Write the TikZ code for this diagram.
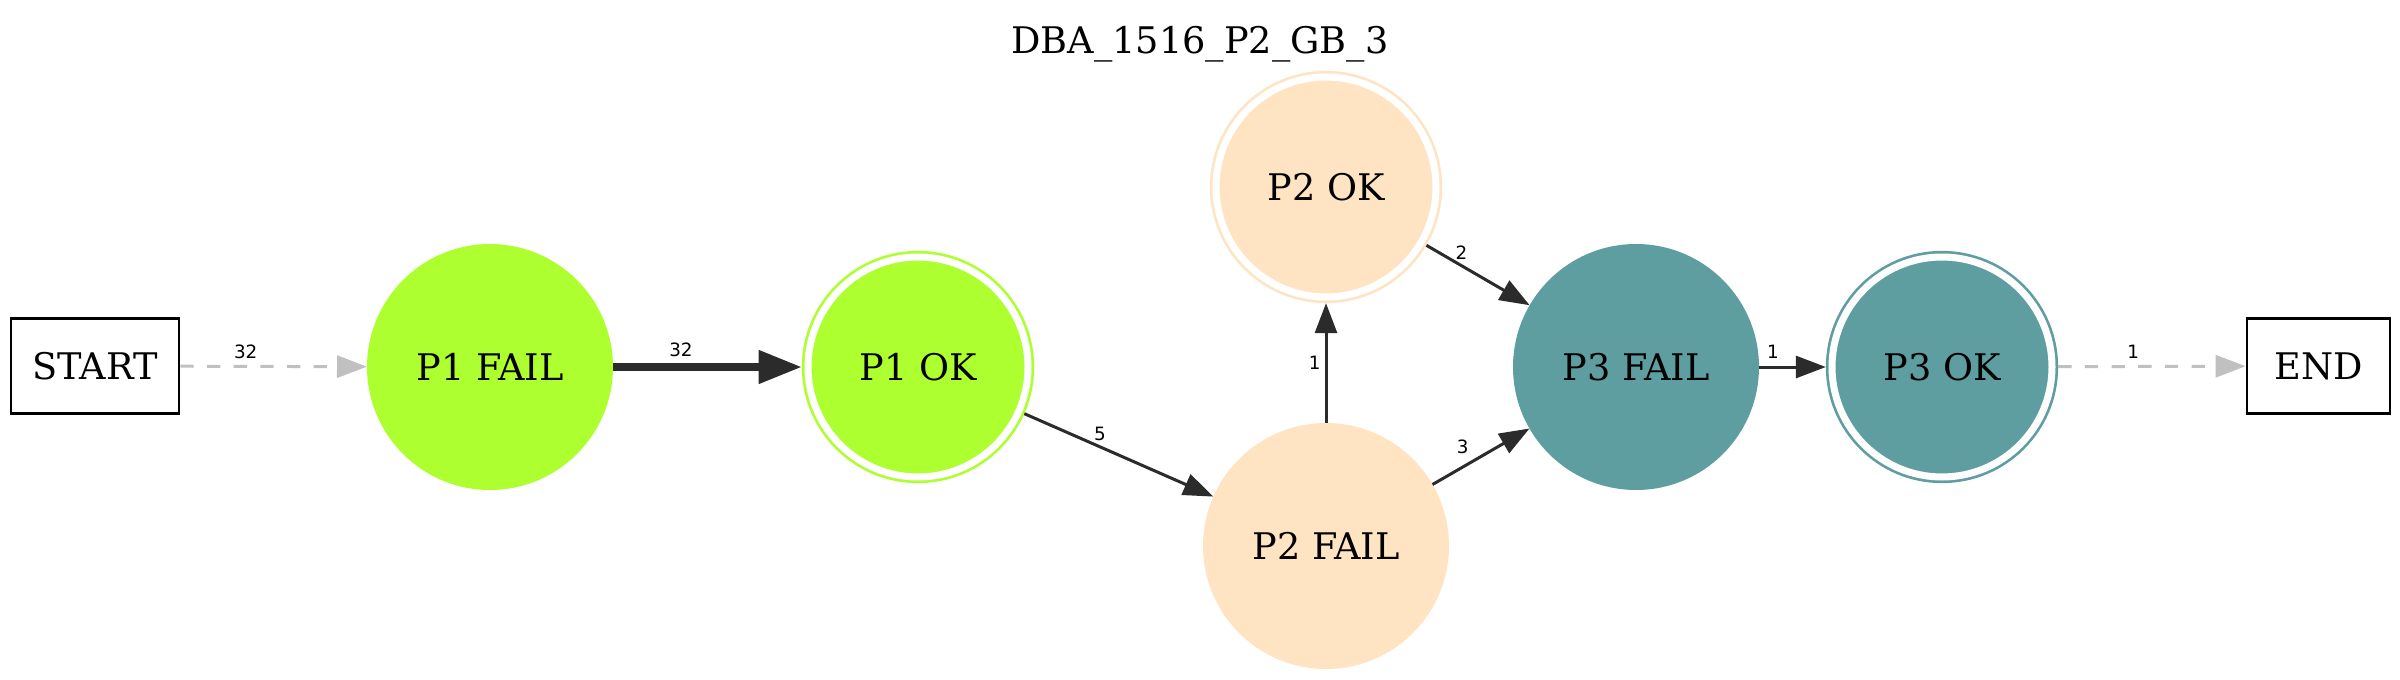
\documentclass[tikz,border=0pt]{standalone}
\usepackage{fontspec}
\setmainfont{DejaVu Serif}
\newfontfamily\edgefont{DejaVu Sans}
\usepackage{tikz}
\usetikzlibrary{arrows.meta, positioning}
\usepackage{xcolor}
\definecolor{p1col}{HTML}{ADFF2F}
\definecolor{p2col}{HTML}{FFE4C4}
\definecolor{p3col}{HTML}{5F9EA0}
\definecolor{edgecol}{HTML}{2B2B2B}
\definecolor{ghostcol}{HTML}{C0C0C0}

\begin{document}
\begin{tikzpicture}[
    x=0.3pt, y=-0.3pt,
    every node/.style={font=\fontsize{11}{13}\selectfont},
    state/.style={circle, fill=#1, draw=none, minimum size=73.8pt, inner sep=0pt, outer sep=0pt},
    final/.style={circle, fill=#1, draw=#1, double=white, double distance=2.1pt,
        line width=0.8pt, minimum size=66pt, inner sep=0pt, outer sep=1.85pt},
    term/.style={draw, line width=0.8pt, minimum height=28.5pt, inner sep=0pt},
    trans/.style={draw=edgecol, line width=0.9pt, -{Triangle[length=9pt, width=6.6pt]}},
    heavy/.style={draw=edgecol, line width=2.4pt, -{Triangle[length=13pt, width=9.6pt]}},
    ghost/.style={draw=ghostcol, line width=0.9pt, dash pattern=on 4pt off 4pt,
        -{Triangle[length=9pt, width=6.6pt]}},
    elabel/.style={font=\edgefont\fontsize{5.5}{6}\selectfont, inner sep=0pt}
]
\useasboundingbox (0,0) rectangle (2400,680);

% Title
\node[anchor=base] (title) at (1200,53) {DBA\_1516\_P2\_GB\_3};

% Start and end boxes
\node[term, minimum width=50.4pt] (start) at (95,366) {START};
\node[term, minimum width=42.9pt] (end) at (2318.5,366) {END};

% P1 states
\node[state=p1col] (p1fail) at (490,367) {P1 FAIL};
\node[final=p1col] (p1ok) at (918,367) {P1 OK};

% P2 states
\node[final=p2col] (p2ok) at (1326,187) {P2 OK};
\node[state=p2col] (p2fail) at (1326,546) {P2 FAIL};

% P3 states
\node[state=p3col] (p3fail) at (1636,367) {P3 FAIL};
\node[final=p3col] (p3ok) at (1942,367) {P3 OK};

% Transitions
\draw[ghost] (start) -- node[elabel, pos=0.35, above=1.9pt] (l-start) {32} (p1fail);
\draw[heavy] (p1fail) -- node[elabel, pos=0.36, above=2pt] (l-p1) {32} (p1ok);
\draw[trans] (p1ok) -- node[elabel, pos=0.40, above=1.45pt] (l-p1ok) {5} (p2fail);
\draw[trans] (p2fail) -- node[elabel, pos=0.5, left=1.2pt] (l-p2up) {1} (p2ok);
\draw[trans] (p2ok) -- node[elabel, pos=0.34, above=1.3pt] (l-p2ok) {2} (p3fail);
\draw[trans] (p2fail) -- node[elabel, pos=0.31, above=3.5pt] (l-p2fail) {3} (p3fail);
\draw[trans] (p3fail) -- node[elabel, pos=0.21, above=2pt] (l-p3) {1} (p3ok);
\draw[ghost] (p3ok) -- node[elabel, pos=0.40, above=2pt] (l-end) {1} (end);

\end{tikzpicture}
\end{document}
